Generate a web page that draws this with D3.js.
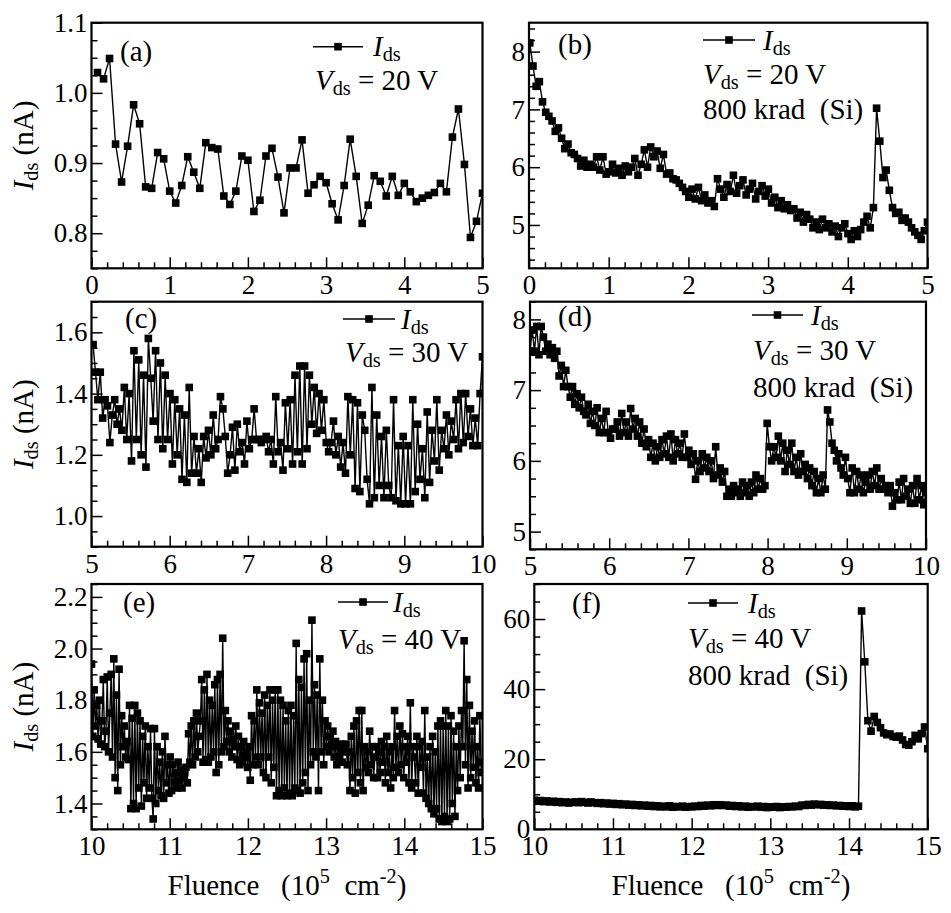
<!DOCTYPE html>
<html><head><meta charset="utf-8">
<script src="https://cdn.jsdelivr.net/npm/d3@7/dist/d3.min.js"></script>
<style>
body{margin:0;background:#fff;}
svg#chart text, svg#chart tspan { font-family: 'Liberation Serif', 'Times New Roman', serif !important; }
</style></head><body>
<svg id="chart" width="951" height="913"></svg>
<script>
// ---------------- DATA ----------------
const fluenceSpanA = [0.077, 5.0];
const currentA = [1.029,1.020,1.049,0.927,0.873,0.924,0.983,0.956,0.866,0.864,0.915,0.906,0.860,0.843,0.868,0.909,0.887,0.864,0.929,0.922,0.920,0.853,0.841,0.860,0.910,0.904,0.831,0.847,0.910,0.921,0.880,0.829,0.893,0.893,0.933,0.857,0.869,0.881,0.872,0.842,0.819,0.868,0.934,0.881,0.814,0.840,0.882,0.874,0.853,0.881,0.854,0.871,0.859,0.845,0.850,0.854,0.858,0.871,0.859,0.937,0.977,0.898,0.794,0.817,0.857];

const fluenceSpanB = [0.01, 5.0];
const currentB = [8.15,7.75,7.40,7.48,7.13,6.95,6.88,6.80,6.62,6.68,6.50,6.32,6.40,6.25,6.22,6.15,6.02,6.12,6.00,6.05,6.00,6.18,5.95,6.18,5.88,5.92,6.05,5.90,5.98,5.86,6.02,5.92,6.00,6.15,5.86,6.05,6.30,6.00,6.35,6.18,6.28,5.98,6.22,5.88,5.90,5.80,5.78,5.72,5.65,5.58,5.48,5.62,5.45,5.65,5.42,5.52,5.38,5.42,5.32,5.80,5.62,5.48,5.70,5.58,5.86,5.55,5.68,5.78,5.52,5.62,5.72,5.45,5.58,5.68,5.50,5.62,5.38,5.48,5.30,5.42,5.28,5.35,5.25,5.28,5.12,5.22,5.05,5.18,5.10,4.95,5.05,4.92,5.10,4.95,5.02,4.88,4.98,4.80,4.95,5.02,4.85,4.75,4.90,4.80,4.92,5.05,5.15,4.95,5.30,7.02,6.45,5.82,5.95,5.60,5.30,5.20,5.22,5.08,5.12,5.05,4.95,4.88,4.82,4.75,4.90,5.05];

const fluenceSpanC = [5.02, 10.0];
const currentC = [1.56,1.47,1.38,1.47,1.32,1.38, 1.36,1.24,1.33,1.38,1.30,1.35, 1.28,1.42,1.25,1.40,1.18,1.54, 1.25,1.51,1.20,1.46,1.16,1.58, 1.45,1.31,1.54,1.25,1.50,1.22, 1.46,1.25,1.40,1.17,1.38,1.20, 1.35,1.12,1.33,1.11,1.42,1.14, 1.26,1.14,1.22,1.11,1.26,1.19, 1.28,1.20,1.33,1.22,1.25,1.39, 1.35,1.26,1.14,1.20,1.29,1.15,1.30, 1.21,1.24,1.17,1.31,1.22,1.25, 1.35,1.25,1.25,1.24,1.25,1.26, 1.21,1.25,1.17,1.39,1.21,1.24,1.15, 1.37,1.22,1.38,1.17,1.46,1.21,1.49, 1.17,1.49,1.22,1.46,1.30,1.42,1.27, 1.40,1.28,1.38,1.24,1.21,1.24,1.31, 1.20,1.26,1.16,1.24,1.14,1.39,1.20, 1.38,1.09,1.37,1.08,1.33,1.28,1.12, 1.04,1.42,1.06,1.33,1.10,1.26, 1.06,1.28,1.10,1.06,1.38,1.05, 1.23,1.04,1.26,1.04,1.23,1.04,1.38, 1.08,1.30,1.12,1.22,1.06,1.34, 1.11,1.28,1.18,1.38,1.15,1.28, 1.22,1.33,1.20,1.31,1.25,1.38, 1.22,1.40,1.24,1.40,1.26,1.35, 1.23,1.32,1.23,1.40,1.52];

const fluenceSpanD = [5.0, 10.0];
const currentD = [7.55,7.85,7.55,7.90,7.50,7.90, 7.75,7.55,7.65,7.50,7.60, 7.45,7.55,7.20,7.35,7.05,7.28,7.05, 6.90,7.05,6.80,6.95,6.75,6.90,6.70, 6.65,6.80,6.53,6.70,6.50,6.75,6.40, 6.60,6.40,6.70,6.40,6.32,6.45, 6.45,6.55,6.35,6.67,6.40,6.55,6.35, 6.74,6.45,6.60,6.35,6.55,6.25,6.45, 6.20,6.30,6.05,6.25,6.00,6.20,6.05, 6.30,6.10,6.35,6.05,6.38,6.00,6.30, 6.10,6.25,6.05,6.38,6.05,6.15,5.95, 6.10,5.74,6.00,5.85,6.10,5.90,6.05, 5.85,6.00,5.75,6.20,5.80,5.90,5.70, 5.85,5.50,5.60,5.50,5.65,5.55, 5.60,5.50,5.70,5.55,5.65,5.50,5.70, 5.55,5.80,5.60,5.75,5.60,5.65,6.53,6.20, 6.00,6.20,6.05,6.35,6.00,6.25,5.85, 6.15,5.95,6.25,5.85,6.05,5.80,6.10, 5.85,5.95,5.75,5.90,5.65,5.85,5.55, 5.75,5.55,5.80,5.60,6.72,6.55,6.25, 6.15,6.00,6.10,5.90,5.80,6.05,5.75, 5.55,5.90,5.55,5.85,5.60,5.80,5.55, 5.70,5.80,5.60,5.85,5.65,5.90,5.60, 5.75,5.60,5.65,5.55,5.65,5.36,5.55, 5.45,5.70,5.45,5.75,5.50,5.60,5.40, 5.65,5.40,5.75,5.45,5.65,5.38,5.55];

const fluenceSpanE = [10.0, 15.0];
const currentE = [1.94,1.66,1.84,1.70,1.78,1.65, 1.80,1.63,1.72,1.88,1.62,1.68, 1.89,1.60,1.75,1.90,1.58,1.96, 1.50,1.82,1.45,1.92,1.55,1.74, 1.62,1.70,1.58,1.64,1.57,1.78, 1.38,1.73,1.40,1.78,1.38,1.75, 1.46,1.72,1.39,1.66,1.48,1.70, 1.42,1.62,1.46,1.69,1.42,1.34, 1.69,1.40,1.62,1.45,1.56,1.43, 1.60,1.42,1.66,1.48,1.55,1.44, 1.58,1.45,1.55,1.48,1.52,1.46, 1.56,1.49,1.53,1.46,1.50,1.52, 1.54,1.48,1.67,1.56,1.70,1.55, 1.72,1.58,1.75,1.60,1.66,1.72, 1.88,1.56,1.84,1.57,1.90,1.56, 1.80,1.58,1.78,1.60,1.86,1.52, 1.88,1.55,1.90,1.60,2.04,1.62, 1.76,1.64,1.72,1.60,1.68,1.58, 1.65,1.62,1.70,1.57,1.66,1.55, 1.62,1.56,1.64,1.58,1.60,1.54, 1.62,1.49,1.74,1.55,1.72,1.58, 1.84,1.55,1.79,1.58,1.75,1.52, 1.82,1.50,1.78,1.58,1.84,1.48, 1.80,1.54,1.84,1.43,1.84,1.45, 1.80,1.43,1.78,1.46,1.72,1.43, 1.76,1.44,1.78,1.43,1.74,1.46, 2.02,1.45,1.88,1.44,1.85,1.48, 1.96,1.52,1.98,1.45,1.80,1.55, 2.11,1.60,1.86,1.58,1.82,1.45, 1.96,1.60,1.80,1.55,1.72,1.62, 1.70,1.60,1.66,1.62,1.68,1.58, 1.64,1.55,1.62,1.58,1.63,1.56, 1.62,1.60,1.63,1.55,1.60,1.45, 1.66,1.50,1.70,1.44,1.72,1.52, 1.76,1.48,1.76,1.45,1.62,1.54, 1.60,1.52,1.68,1.55,1.62,1.50, 1.58,1.62,1.50,1.60,1.52,1.64, 1.56,1.62,1.48,1.66,1.52,1.60, 1.46,1.62,1.50,1.76,1.54,1.66, 1.52,1.70,1.55,1.67,1.50,1.62, 1.56,1.66,1.48,1.79,1.46,1.62, 1.58,1.48,1.66,1.44,1.62,1.54, 1.64,1.44,1.76,1.42,1.58,1.40, 1.62,1.38,1.66,1.36,1.60,1.38, 1.70,1.34,1.72,1.33,1.70,1.35, 1.76,1.33,1.70,1.34,1.74,1.40, 1.68,1.35,1.62,1.45,1.70,1.50, 1.76,1.62,2.03,1.55,1.88,1.46, 1.78,1.50,1.68,1.54,1.72,1.48, 1.62,1.46,1.74,1.52,1.56];

const fluenceSpanF = [10.0, 15.0];
const currentF = [8.3,8.0,8.2,7.9,8.1,7.8,8.0,7.7,7.9,7.6, 7.8,7.5,7.7,7.8,7.6,7.9,7.7,7.5,7.8,7.6, 7.4,7.6,7.3,7.5,7.2,7.4,7.1,7.3,7.0,7.2, 6.9,7.1,6.8,7.0,6.7,6.9,6.6,6.8,6.5,6.7, 6.4,6.6,6.4,6.7,6.3,6.5,6.4,6.6,6.3,6.5, 6.4,6.6,6.5,6.8,6.6,6.9,6.7,7.0,6.8,7.0, 6.8,6.9,6.6,6.8,6.5,6.7,6.4,6.6,6.3,6.5, 6.4,6.6,6.3,6.5,6.2,6.4,6.3,6.5,6.2,6.4, 6.3,6.5,6.4,6.6,6.5,6.9,6.8,7.1,6.9,7.2, 7.0,7.1,6.9,7.0,6.8,6.9,6.7,6.8,6.6,6.7, 6.5,6.7,6.4,6.6, 62.3,47.8,31.0,28.0,32.2,30.5,29.0,27.5,27.0,27.2,26.5,26.3,26.6,25.5,24.2,24.0,25.0,26.8,25.8,27.3,29.2,23.0];

// axis domains and tick values
const xDomainTop = [0, 5], xDomainMid = [5, 10], xDomainBot = [10, 15];
const xTicksTop = [0, 1, 2, 3, 4, 5];
const xTicksMid = [5, 6, 7, 8, 9, 10];
const xTicksBot = [10, 11, 12, 13, 14, 15];
const yDomainA = [0.75, 1.1], yTicksA = [0.8, 0.9, 1.0, 1.1];
const yDomainB = [4.25, 8.5], yTicksB = [5, 6, 7, 8];
const yDomainC = [0.9, 1.7],  yTicksC = [1.0, 1.2, 1.4, 1.6];
const yDomainD = [4.75, 8.25], yTicksD = [5, 6, 7, 8];
const yDomainE = [1.3, 2.25], yTicksE = [1.4, 1.6, 1.8, 2.0, 2.2];
const yDomainF = [0, 70], yTicksF = [0, 20, 40, 60];
const panelLabels = ['(a)', '(b)', '(c)', '(d)', '(e)', '(f)'];
const biasTexts = ['20 V', '20 V', '30 V', '30 V', '40 V', '40 V'];
const doseText = '800 krad\u00a0\u00a0(Si)';

// ---------------- LAYOUT ----------------
const FONT = "'Liberation Serif', 'Times New Roman', serif";
const TICK_FS = 27, TEXT_FS = 29;
const panels = [
  {key:'a', span:fluenceSpanA, values:currentA, xDomain:xDomainTop, xTicks:xTicksTop, yDomain:yDomainA, yTicks:yTicksA, yMinor:0.025, yFmt:'.1f',
   box:[91.5,22.7,482.5,268.3], lab:[120,61], leg:{x0:313,x1:363,y:46.7,tx:373,ty:56}, v:[315,90], dose:null, ytitle:true},
  {key:'b', span:fluenceSpanB, values:currentB, xDomain:xDomainTop, xTicks:xTicksTop, yDomain:yDomainB, yTicks:yTicksB, yMinor:0.2, yFmt:'d',
   box:[529,22.7,927.5,268.3], lab:[558,54], leg:{x0:703,x1:755,y:40,tx:763,ty:50}, v:[703,84], dose:[703,119], ytitle:false},
  {key:'c', span:fluenceSpanC, values:currentC, xDomain:xDomainMid, xTicks:xTicksMid, yDomain:yDomainC, yTicks:yTicksC, yMinor:0.05, yFmt:'.1f',
   box:[91.5,301.7,482.5,546.7], lab:[125,328], leg:{x0:343,x1:395,y:319,tx:401,ty:329}, v:[345,362], dose:null, ytitle:true},
  {key:'d', span:fluenceSpanD, values:currentD, xDomain:xDomainMid, xTicks:xTicksMid, yDomain:yDomainD, yTicks:yTicksD, yMinor:0.25, yFmt:'d',
   box:[530,301.7,926,549.3], lab:[558,326], leg:{x0:752,x1:803,y:315,tx:811,ty:325}, v:[753,360], dose:[753,397], ytitle:false},
  {key:'e', span:fluenceSpanE, values:currentE, xDomain:xDomainBot, xTicks:xTicksBot, yDomain:yDomainE, yTicks:yTicksE, yMinor:0.05, yFmt:'.1f',
   box:[91.5,584,482.5,829.3], lab:[123,612], leg:{x0:338,x1:388,y:602,tx:393,ty:612}, v:[338,649], dose:null, ytitle:true, xtitle:true},
  {key:'f', span:fluenceSpanF, values:currentF, xDomain:xDomainBot, xTicks:xTicksBot, yDomain:yDomainF, yTicks:yTicksF, yMinor:5, yFmt:'d',
   box:[534.3,584,927.7,829.3], lab:[572,613], leg:{x0:688,x1:738,y:603,tx:748,ty:613}, v:[688,648], dose:[688,685], ytitle:false, xtitle:true},
];

const svg = d3.select('#chart');
const MS = 7.6; // marker size

function rich(sel, parts, fs) {
  let shift = 0;
  parts.forEach(p => {
    const t = sel.append('tspan').text(p.t);
    if (p.i) t.attr('font-style', 'italic');
    let target = 0;
    if (p.sub) { t.attr('font-size', fs * 0.7); target = fs * 0.18; }
    if (p.sup) { t.attr('font-size', fs * 0.7); target = -fs * 0.4; }
    if (target !== shift) { t.attr('dy', target - shift); shift = target; }
  });
}

function approxRange(a, b, step) {
  const out = [];
  const start = Math.ceil(a / step - 1e-9);
  for (let k = start; k * step <= b + 1e-9; k++) out.push(+(k * step).toFixed(6));
  return out;
}

panels.forEach((p, idx) => {
  const [x0, y0, x1, y1] = p.box;
  const x = d3.scaleLinear().domain(p.xDomain).range([x0, x1]);
  const y = d3.scaleLinear().domain(p.yDomain).range([y1, y0]);
  const g = svg.append('g');

  const clipId = 'clip-' + p.key;
  svg.append('clipPath').attr('id', clipId).append('rect')
    .attr('x', x0).attr('y', y0).attr('width', x1 - x0).attr('height', y1 - y0);

  const n = p.values.length;
  const pts = p.values.map((v, i) => ({f: p.span[0] + i * (p.span[1] - p.span[0]) / (n - 1), v}));
  const plot = g.append('g').attr('clip-path', `url(#${clipId})`);
  plot.append('path').datum(pts)
    .attr('d', d3.line().x(d => x(d.f)).y(d => y(d.v)))
    .attr('fill', 'none').attr('stroke', '#000').attr('stroke-width', 1.4);
  plot.selectAll('rect.m').data(pts).join('rect').attr('class', 'm')
    .attr('x', d => x(d.f) - MS / 2).attr('y', d => y(d.v) - MS / 2)
    .attr('width', MS).attr('height', MS).attr('fill', '#000');

  const xMinor = approxRange(p.xDomain[0], p.xDomain[1], 0.2).filter(v => !p.xTicks.some(t => Math.abs(t - v) < 1e-6));
  const yMinor = approxRange(p.yDomain[0], p.yDomain[1], p.yMinor).filter(v => !p.yTicks.some(t => Math.abs(t - v) < 1e-6));
  g.append('g').attr('class', 'ax').attr('transform', `translate(0,${y1})`)
    .call(d3.axisBottom(x).tickValues(xMinor).tickSize(-6).tickFormat(''));
  g.append('g').attr('class', 'ax').attr('transform', `translate(${x0},0)`)
    .call(d3.axisLeft(y).tickValues(yMinor).tickSize(-6).tickFormat(''));
  g.append('g').attr('class', 'ax').attr('transform', `translate(0,${y1})`)
    .call(d3.axisBottom(x).tickValues(p.xTicks).tickSize(-11).tickPadding(7).tickFormat(d3.format('d')));
  g.append('g').attr('class', 'ax').attr('transform', `translate(${x0},0)`)
    .call(d3.axisLeft(y).tickValues(p.yTicks).tickSize(-11).tickPadding(4).tickFormat(d3.format(p.yFmt)));
  g.selectAll('.ax .domain').remove();
  g.selectAll('.ax').attr('font-family', FONT).attr('font-size', TICK_FS);
  g.selectAll('.ax line').attr('stroke', '#000').attr('stroke-width', 1.5);
  g.selectAll('.ax text').attr('fill', '#000');

  g.append('rect').attr('x', x0).attr('y', y0).attr('width', x1 - x0).attr('height', y1 - y0)
    .attr('fill', 'none').attr('stroke', '#000').attr('stroke-width', 2.2);

  g.append('text').attr('x', p.lab[0]).attr('y', p.lab[1]).attr('font-size', TEXT_FS).text(panelLabels[idx]);

  const L = p.leg;
  g.append('line').attr('x1', L.x0).attr('x2', L.x1).attr('y1', L.y).attr('y2', L.y).attr('stroke', '#000').attr('stroke-width', 1.6);
  g.append('rect').attr('x', (L.x0 + L.x1) / 2 - MS / 2).attr('y', L.y - MS / 2).attr('width', MS).attr('height', MS).attr('fill', '#000');
  rich(g.append('text').attr('x', L.tx).attr('y', L.ty).attr('font-size', TEXT_FS),
       [{t:'I', i:true}, {t:'ds', sub:true}], TEXT_FS);
  rich(g.append('text').attr('x', p.v[0]).attr('y', p.v[1]).attr('font-size', TEXT_FS),
       [{t:'V', i:true}, {t:'ds', sub:true}, {t:' = ' + biasTexts[idx]}], TEXT_FS);
  if (p.dose) g.append('text').attr('x', p.dose[0]).attr('y', p.dose[1]).attr('font-size', TEXT_FS).text(doseText);

  if (p.ytitle) {
    const t = g.append('text').attr('transform', `translate(33,${(y0 + y1) / 2}) rotate(-90)`)
      .attr('text-anchor', 'middle').attr('font-size', TEXT_FS);
    rich(t, [{t:'I', i:true}, {t:'ds', sub:true}, {t:'\u00a0(nA)'}], TEXT_FS);
  }
  if (p.xtitle) {
    const t = g.append('text').attr('x', (x0 + x1) / 2).attr('y', 895)
      .attr('text-anchor', 'middle').attr('font-size', TEXT_FS);
    rich(t, [{t:'Fluence\u00a0\u00a0\u00a0(10'}, {t:'5', sup:true}, {t:'\u00a0\u00a0cm'}, {t:'-2', sup:true}, {t:')'}], TEXT_FS);
  }
});
// force the serif face with an important inline declaration on every text node
svg.selectAll('text, tspan').attr('font-family', FONT).style('font-family', FONT, 'important');
</script>
</body></html>
